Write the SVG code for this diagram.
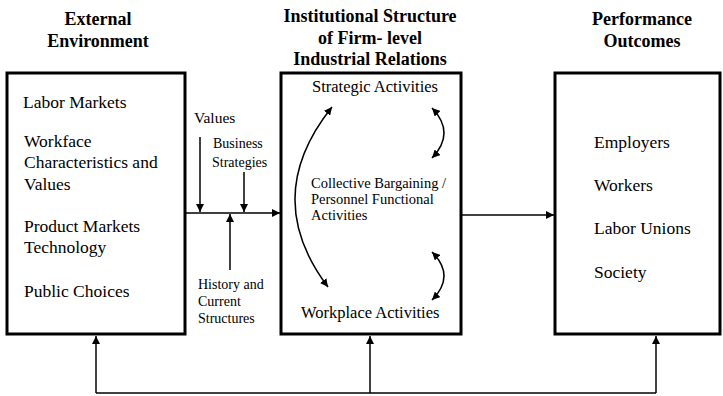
<svg xmlns="http://www.w3.org/2000/svg" width="723" height="396" viewBox="0 0 723 396">
<style>
.box{fill:#fff;stroke:#000;stroke-width:3}
.title{font-family:"Liberation Serif",serif;font-weight:bold;font-size:18px;text-anchor:middle;fill:#000}
.t{font-family:"Liberation Serif",serif;font-size:17.5px;fill:#000}
.m{font-family:"Liberation Serif",serif;font-size:16.5px;fill:#000}
.s{font-family:"Liberation Serif",serif;font-size:14px;fill:#000}
.c{fill:none;stroke:#000;stroke-width:1.5}
</style>
<defs>
<marker id="ah" viewBox="0 0 10 10" refX="10" refY="5" markerWidth="8" markerHeight="8" markerUnits="userSpaceOnUse" orient="auto-start-reverse">
<path d="M0,0 L10,5 L0,10 z" fill="#000"/>
</marker>
</defs>
<g id="titles">
<text class="title" x="98" y="25">External</text>
<text class="title" x="98" y="47">Environment</text>
<text class="title" x="370" y="22">Institutional Structure</text>
<text class="title" x="370" y="43.5">of Firm- level</text>
<text class="title" x="370" y="65">Industrial Relations</text>
<text class="title" x="642" y="25">Performance</text>
<text class="title" x="642" y="47">Outcomes</text>
</g>
<g id="external">
<rect class="box" x="7" y="73" width="178" height="261"/>
<text class="t" x="23" y="108">Labor Markets</text>
<text class="t" x="24" y="147">Workface</text>
<text class="t" x="24" y="168">Characteristics and</text>
<text class="t" x="24" y="190">Values</text>
<text class="t" x="24" y="232">Product Markets</text>
<text class="t" x="24" y="253">Technology</text>
<text class="t" x="24" y="297">Public Choices</text>
</g>
<g id="institutional">
<rect class="box" x="281" y="73" width="180" height="261"/>
<text class="m" x="312" y="92">Strategic Activities</text>
<text class="s" x="311" y="188" style="font-size:14.5px">Collective Bargaining /</text>
<text class="s" x="311" y="204" style="font-size:14.5px">Personnel Functional</text>
<text class="s" x="311" y="220" style="font-size:14.5px">Activities</text>
<text class="m" x="301" y="318">Workplace Activities</text>
</g>
<g id="outcomes">
<rect class="box" x="555" y="73" width="165" height="261"/>
<text class="t" x="594" y="148">Employers</text>
<text class="t" x="594" y="191">Workers</text>
<text class="t" x="594" y="234">Labor Unions</text>
<text class="t" x="594" y="278">Society</text>
</g>
<g id="influences">
<text class="s" x="194" y="123" style="font-size:15.5px">Values</text>
<text class="s" x="213" y="148">Business</text>
<text class="s" x="212" y="167">Strategies</text>
<text class="s" x="198" y="289">History and</text>
<text class="s" x="198" y="306">Current</text>
<text class="s" x="198" y="323">Structures</text>
</g>
<g id="connectors">
<line class="c" x1="186" y1="213" x2="280" y2="213" marker-end="url(#ah)"/>
<line class="c" x1="200" y1="137" x2="200" y2="212" marker-end="url(#ah)"/>
<line class="c" x1="244" y1="172" x2="244" y2="212" marker-end="url(#ah)"/>
<line class="c" x1="230" y1="270" x2="230" y2="214" marker-end="url(#ah)"/>
<line class="c" x1="462" y1="215" x2="554" y2="215" marker-end="url(#ah)"/>
<path class="c" d="M332,107 Q260,197 328,287" marker-start="url(#ah)" marker-end="url(#ah)"/>
<path class="c" d="M432,108 Q456,133 432,158" marker-start="url(#ah)" marker-end="url(#ah)"/>
<path class="c" d="M432,252 Q456,276 432,300" marker-start="url(#ah)" marker-end="url(#ah)"/>
<polyline class="c" points="96,393 656,393"/>
<line class="c" x1="96" y1="393" x2="96" y2="336" marker-end="url(#ah)"/>
<line class="c" x1="370" y1="393" x2="370" y2="336" marker-end="url(#ah)"/>
<line class="c" x1="656" y1="393" x2="656" y2="336" marker-end="url(#ah)"/>
</g>
</svg>
